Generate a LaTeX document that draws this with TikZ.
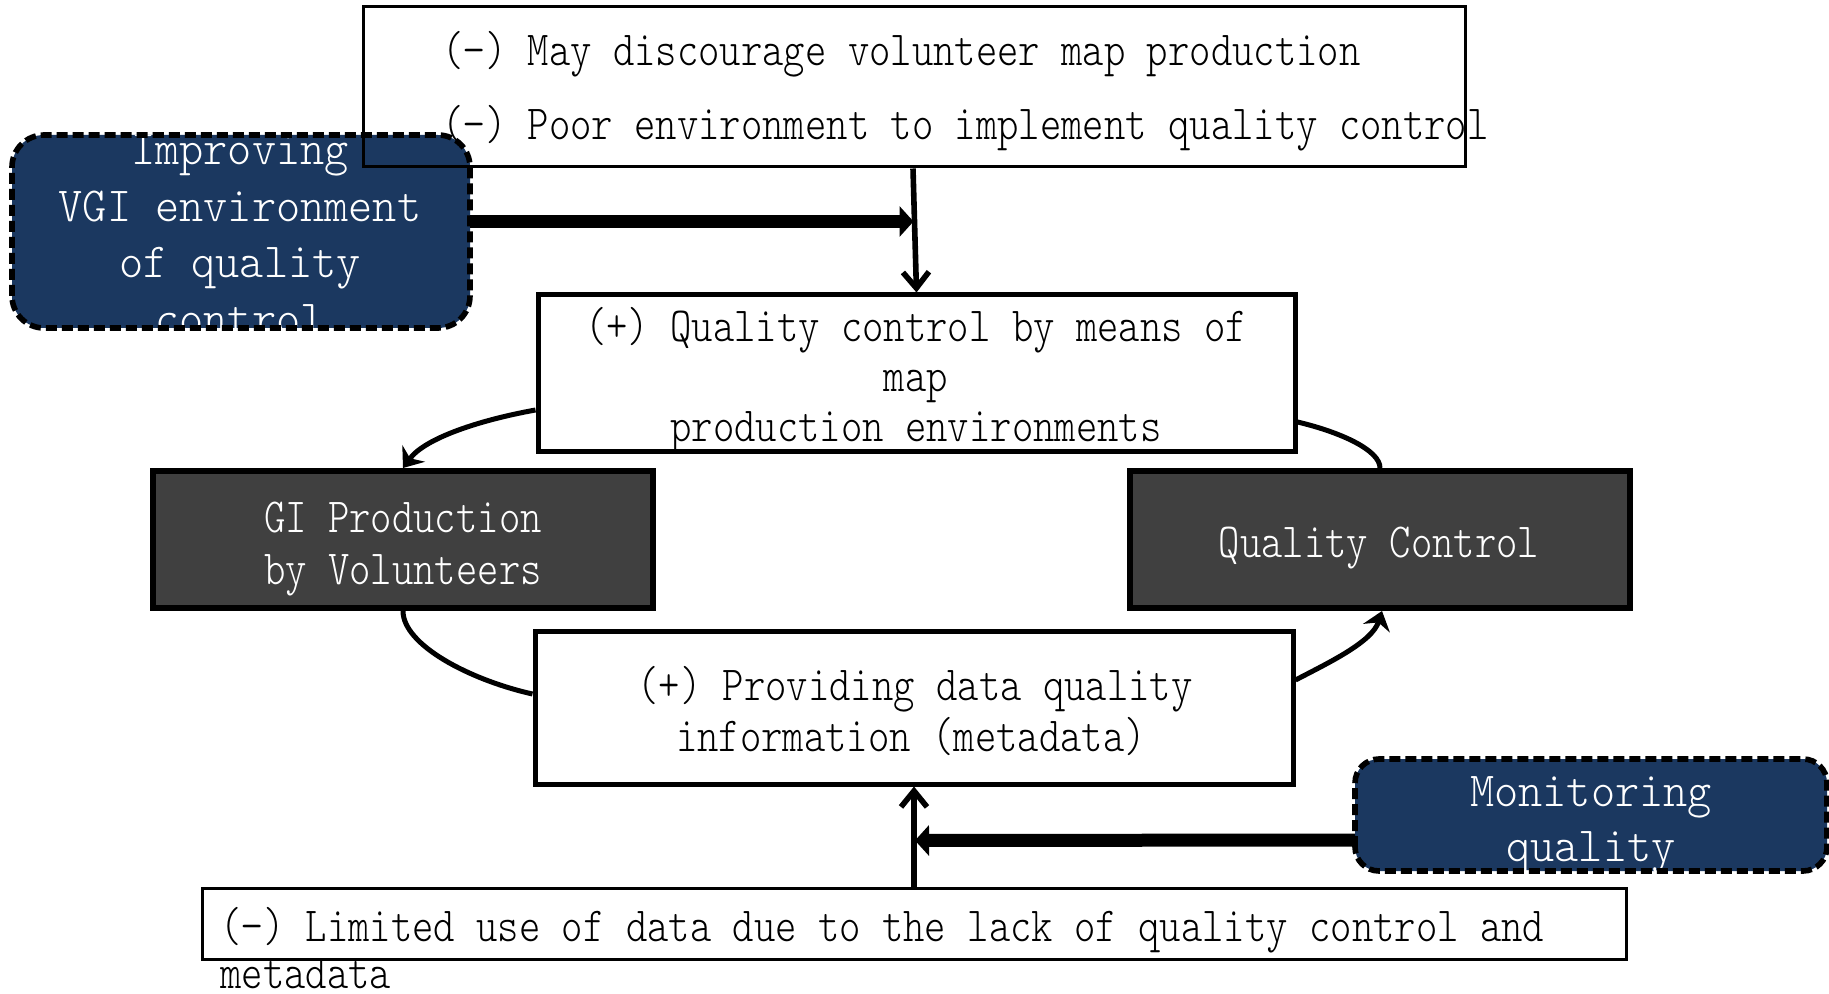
\documentclass[tikz,border=0pt]{standalone}
\usepackage{fontspec}
\usetikzlibrary{arrows.meta}
\newfontfamily\boxfont[FakeStretch=0.83]{lmmonolt10-regular.otf}
\newfontfamily\navyfont[FakeStretch=0.94]{lmmonolt10-regular.otf}
\definecolor{navyblue}{RGB}{27,56,96}
\definecolor{darkbox}{RGB}{64,64,64}
\begin{document}
\begin{tikzpicture}[x=0.5pt,y=-0.5pt,
  txt/.style={font=\boxfont\fontsize{24.5}{24.5}\selectfont, inner sep=0pt},
  ntxt/.style={font=\navyfont\fontsize{24.5}{24.5}\selectfont, inner sep=0pt, text=white},
  plainbox/.style={draw=black, rectangle, inner sep=0pt},
  darkstep/.style={draw=black, fill=darkbox, line width=3pt, inner sep=0pt},
  navyfill/.style={fill=navyblue, inner sep=0pt, outer sep=0pt},
  navyborder/.style={draw=black, line width=2.8pt, dash pattern=on 5.5pt off 2.5pt},
  conn/.style={line width=2.5pt},
  barbarrow/.style={line width=2.8pt, -{Straight Barb[length=8pt,width=13pt]}},
  fatarrow/.style={line width=6.5pt, -{Triangle[length=7pt,width=15pt]}},
  curvearrow/.style={line width=2.5pt, -{Stealth[length=9pt,width=14pt,inset=3pt]}}
]
\useasboundingbox (0,0) rectangle (1829,994);

% navy box: Improving ...
\node[navyfill, rounded corners=16pt, minimum width=229pt, minimum height=96.5pt] (imp) at (241,231.5) {};
\begin{scope}
  \clip[rounded corners=16pt] (imp.south west) rectangle (imp.north east);
  \node[ntxt, anchor=base] (imp1) at (240,165) {Improving};
  \node[ntxt, anchor=base] (imp2) at (240,222) {VGI environment};
  \node[ntxt, anchor=base] (imp3) at (240,278) {of quality};
  \node[ntxt, anchor=base] (imp4) at (240,335) {control};
\end{scope}
\draw[navyborder, rounded corners=16pt] (imp.south west) rectangle (imp.north east);

% top box
\node[plainbox, line width=1.5pt, minimum width=551pt, minimum height=80pt] (top) at (914,87) {};
\node[txt, anchor=base west] (top1) at (442,66) {(−) May discourage volunteer map production};
\node[txt, anchor=base west] (top2) at (442,140) {(−) Poor environment to implement quality control};

% box: quality control by means of map production environments
\node[plainbox, line width=2.5pt, minimum width=378.5pt, minimum height=78pt] (qcm) at (916.5,373) {};
\node[txt, anchor=base] (qcm1) at (916,342) {(+) Quality control by means of};
\node[txt, anchor=base] (qcm2) at (916,392) {map};
\node[txt, anchor=base] (qcm3) at (916,441) {production environments};

% dark boxes
\node[darkstep, minimum width=250pt, minimum height=68.5pt] (gi) at (403,539.5) {};
\node[txt, text=white, anchor=base] (gi1) at (403,532) {GI Production};
\node[txt, text=white, anchor=base] (gi2) at (403,584) {by Volunteers};

\node[darkstep, minimum width=250pt, minimum height=68.5pt] (qc) at (1380,539.5) {};
\node[txt, text=white, anchor=base] (qc1) at (1379,557) {Quality Control};

% box: providing data quality information
\node[plainbox, line width=2.5pt, minimum width=379pt, minimum height=76.5pt] (prov) at (914,707.5) {};
\node[txt, anchor=base] (prov1) at (915,700) {(+) Providing data quality};
\node[txt, anchor=base] (prov2) at (911,751) {information (metadata)};

% navy box: Monitoring quality
\node[navyfill, rounded corners=12pt, minimum width=236pt, minimum height=56pt] (mon) at (1591,815) {};
\begin{scope}
  \clip[rounded corners=12pt] (mon.south west) rectangle (mon.north east);
  \node[ntxt, anchor=base] (mon1) at (1591,806) {Monitoring};
  \node[ntxt, anchor=base] (mon2) at (1591,861) {quality};
\end{scope}
\draw[navyborder, rounded corners=12pt] (mon.south west) rectangle (mon.north east);

% bottom box
\node[plainbox, line width=1.5pt, minimum width=712pt, minimum height=35.5pt] (lim) at (914,923.5) {};
\node[txt, anchor=base west] (lim1) at (220,941) {(−) Limited use of data due to the lack of quality control and};
\node[txt, anchor=base west] (lim2) at (220,988) {metadata};

% connectors
\coordinate (ja) at (913.5,221.5);
\coordinate (jb) at (915,840.5);
\draw[barbarrow] ([xshift=-0.5pt]top.south) -- (qcm.north);
\draw[fatarrow] ([yshift=5pt]imp.east) -- (ja);
\draw[curvearrow] ([yshift=-18.5pt]qcm.west) .. controls (480,420) and (425,438) .. (gi.north);
\draw[conn] ([yshift=-24.5pt]qcm.east) .. controls (1340,432) and (1380,450) .. (qc.north);
\draw[conn] (gi.south) .. controls (403,645) and (470,680) .. ([yshift=6.75pt]prov.west);
\draw[curvearrow] ([yshift=13.75pt]prov.east) .. controls (1330,662) and (1372,642) .. ([xshift=1pt]qc.south);
\draw[barbarrow] (lim.north) -- (prov.south);
\draw[fatarrow] ([yshift=-12.5pt]mon.west) -- (jb);
\end{tikzpicture}
\end{document}
